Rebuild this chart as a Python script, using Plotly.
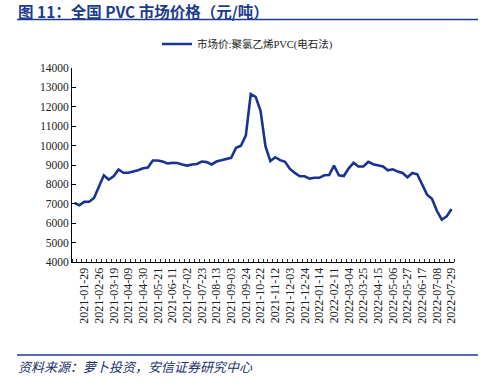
import pandas as pd
import plotly.graph_objects as go

# Weekly dates (holiday weeks missing in the source data)
all_weeks = pd.date_range("2021-01-15", "2022-07-29", freq="7D")
missing = pd.to_datetime(["2021-02-12", "2021-10-01", "2022-02-04"])
dates = [d.strftime("%Y-%m-%d") for d in all_weeks if d not in missing]

# 市场价:聚氯乙烯PVC(电石法), 元/吨
prices = [
    7050, 6920, 7100, 7110, 7300, 7870, 8470, 8250, 8420, 8770,
    8600, 8600, 8660, 8730, 8830, 8870, 9230, 9230, 9180, 9080,
    9110, 9100, 9030, 8970, 9030, 9050, 9180, 9150, 9030, 9180,
    9250, 9320, 9370, 9890, 9990, 10530, 12650, 12510, 11790, 9970,
    9200, 9400, 9250, 9165, 8800, 8590, 8420, 8420, 8300, 8340,
    8340, 8470, 8480, 8970, 8470, 8430, 8830, 9110, 8920, 8920,
    9165, 9040, 8990, 8920, 8730, 8780, 8660, 8590, 8370, 8590,
    8520, 8030, 7470, 7260, 6640, 6180, 6350, 6730,
]

series_name = "市场价:聚氯乙烯PVC(电石法)"
title_text = "图 11：全国 PVC 市场价格（元/吨）"
source_text = "资料来源：萝卜投资，安信证券研究中心"

idx = list(range(len(dates)))
tick_idx = idx[2::3]
tick_txt = [dates[i] for i in tick_idx]

W, H = 489, 385
ML, MR, MT, MB = 72, 35, 68, 123
PW, PH = W - ML - MR, H - MT - MB


def px_x(x):
    return (x - ML) / PW


def px_y(y):
    return (H - MB - y) / PH


NAVY = "#1E3C8E"
LINE = "#1A3390"
SERIF = "Liberation Serif, 'Times New Roman', 'Noto Sans CJK SC', serif"
CJK = "'Noto Sans CJK SC', sans-serif"

fig = go.Figure()
fig.add_trace(go.Scatter(
    x=idx, y=prices, mode="lines", name=series_name,
    line=dict(color=LINE, width=2.6),
))

fig.update_layout(
    width=W, height=H,
    margin=dict(l=ML, r=MR, t=MT, b=MB, autoexpand=False),
    paper_bgcolor="white", plot_bgcolor="white",
    showlegend=True,
    legend=dict(
        orientation="h", x=px_x(157), y=px_y(44), xanchor="left", yanchor="middle",
        font=dict(family=SERIF, size=10.5, color="#222"),
        bgcolor="rgba(0,0,0,0)",
    ),
    xaxis=dict(
        range=[-0.5, len(dates) - 0.5],
        tickmode="array", tickvals=tick_idx, ticktext=tick_txt,
        tickangle=-90, ticks="",
        minor=dict(ticks="inside", ticklen=3, tickcolor="#333", dtick=1, tick0=-0.5, showgrid=False),
        showline=True, linecolor="black", linewidth=1,
        showgrid=False, zeroline=False,
        tickfont=dict(family=SERIF, size=12, color="#222"),
    ),
    yaxis=dict(
        range=[4000, 14000], dtick=1000, tick0=4000, tickformat="d",
        ticks="inside", ticklen=4, tickcolor="black",
        showline=True, linecolor="black", linewidth=1,
        showgrid=False, zeroline=False,
        tickfont=dict(family=SERIF, size=11.5, color="#222"),
    ),
    shapes=[
        dict(type="line", xref="paper", yref="paper",
             x0=px_x(17), x1=px_x(478), y0=px_y(19.5), y1=px_y(19.5),
             line=dict(color=NAVY, width=1.5)),
        dict(type="line", xref="paper", yref="paper",
             x0=px_x(17), x1=px_x(478), y0=px_y(355), y1=px_y(355),
             line=dict(color=NAVY, width=1.5)),
    ],
    annotations=[
        dict(text="<b>" + title_text + "</b>", xref="paper", yref="paper",
             x=px_x(16), y=px_y(11), xanchor="left", yanchor="middle",
             showarrow=False, font=dict(family=CJK, size=15.5, color=NAVY)),
        dict(text="<i>" + source_text + "</i>", xref="paper", yref="paper",
             x=px_x(16), y=px_y(366), xanchor="left", yanchor="middle",
             showarrow=False, font=dict(family=CJK, size=13, color="#1E2F6E")),
    ],
)

fig.write_html("out.html", config={"displayModeBar": False},
               post_script="document.body.style.margin='0';")
